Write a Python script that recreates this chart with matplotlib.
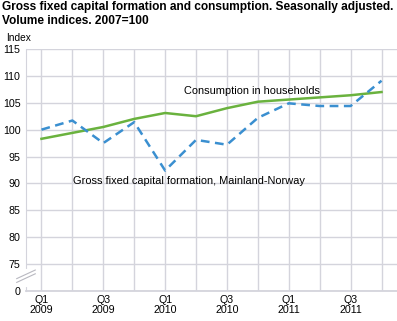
import matplotlib
matplotlib.use("Agg")
import matplotlib.pyplot as plt

plt.rcParams['font.family'] = ['Liberation Sans', 'DejaVu Sans']

quarters = ["Q1\n2009", "Q2\n2009", "Q3\n2009", "Q4\n2009",
            "Q1\n2010", "Q2\n2010", "Q3\n2010", "Q4\n2010",
            "Q1\n2011", "Q2\n2011", "Q3\n2011", "Q4\n2011"]
consumption = [98.3, 99.4, 100.5, 102.0, 103.1, 102.5, 104.0, 105.2, 105.6, 106.0, 106.4, 107.0]
gfcf = [100.0, 101.7, 97.5, 101.4, 92.4, 98.1, 97.2, 102.2, 104.9, 104.4, 104.4, 109.1]
ytick_vals = [70, 75, 80, 85, 90, 95, 100, 105, 110, 115]
ytick_labels = ["0", "75", "80", "85", "90", "95", "100", "105", "110", "115"]

grid_col = "#d4d4dc"
green = "#6ab23e"
blue = "#3a8fd0"

fig = plt.figure(figsize=(3.97, 3.21), dpi=100)
ax = fig.add_axes([26 / 397, 1 - 291 / 321, 1 - 26 / 397, (291 - 49) / 321])

x = list(range(len(quarters)))
ax.plot(x, consumption, color=green, lw=1.8, zorder=3)
ax.plot(x, gfcf, color=blue, lw=1.8, ls=(0, (3.5, 2.2)), zorder=3)

ax.set_xlim(-0.5, 11.5)
ax.set_ylim(70, 115)
ax.set_yticks(ytick_vals)
ax.set_yticklabels(ytick_labels)
ax.set_xticks(x)
ax.set_xticklabels([q if i % 2 == 0 else "" for i, q in enumerate(quarters)])
ax.tick_params(length=0, labelsize=7.7, pad=4)
ax.tick_params(axis='x', pad=3)
for lab in ax.get_xticklabels():
    lab.set_linespacing(0.95)

ax.grid(True, color=grid_col, lw=1)
ax.set_axisbelow(True)
for s in ["top", "right"]:
    ax.spines[s].set_visible(False)
ax.spines["left"].set_color(grid_col)
ax.spines["bottom"].set_color(grid_col)
ax.spines["bottom"].set_linewidth(1.3)

# axis break marks
ax.plot([-0.5, -0.5], [71.2, 73.8], color="white", lw=3, clip_on=False, zorder=4)
for dy in (0, 0.7):
    ax.plot([-0.8, -0.2], [71.6 + dy, 73.2 + dy], color="#b8b8c0", lw=0.8, clip_on=False, zorder=5)

ax.text(4.6, 107.2, "Consumption in households", fontsize=7.9, va="center")
ax.text(1.03, 90.4, "Gross fixed capital formation, Mainland-Norway", fontsize=7.9, va="center")

fig.text(2 / 397, 1 - 1 / 321, "Gross fixed capital formation and consumption. Seasonally adjusted.\nVolume indices. 2007=100",
         fontsize=8.55, fontweight="bold", va="top", ha="left", linespacing=1.2)
fig.text(6 / 397, 1 - 38 / 321, "Index", fontsize=7.3, va="center", ha="left")

fig.savefig("out.png", dpi=100)
